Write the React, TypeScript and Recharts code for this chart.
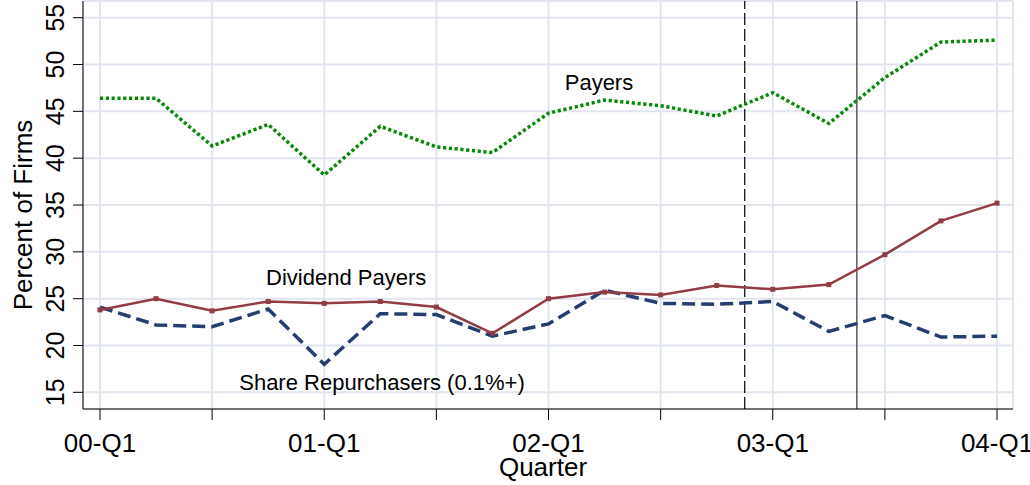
import React from "react";
import {
  LineChart,
  Line,
  XAxis,
  YAxis,
  CartesianGrid,
  ReferenceLine,
  ReferenceDot,
} from "recharts";

const quarters = [
  "00-Q1", "00-Q2", "00-Q3", "00-Q4",
  "01-Q1", "01-Q2", "01-Q3", "01-Q4",
  "02-Q1", "02-Q2", "02-Q3", "02-Q4",
  "03-Q1", "03-Q2", "03-Q3", "03-Q4",
  "04-Q1",
];
const payers = [46.4, 46.4, 41.3, 43.6, 38.2, 43.4, 41.2, 40.6, 44.8, 46.2, 45.6, 44.5, 47.0, 43.7, 48.6, 52.4, 52.6];
const dividendPayers = [23.8, 25.0, 23.7, 24.7, 24.5, 24.7, 24.1, 21.3, 25.0, 25.7, 25.4, 26.4, 26.0, 26.5, 29.7, 33.3, 35.2];
const shareRepurchasers = [24.1, 22.2, 22.0, 23.9, 18.0, 23.4, 23.3, 21.0, 22.3, 25.9, 24.5, 24.4, 24.7, 21.5, 23.2, 20.9, 21.0];

const yTicks = [15, 20, 25, 30, 35, 40, 45, 50, 55];
const xTicks = [0, 2, 4, 6, 8, 10, 12, 14, 16];
const labeledEvery = 4;

// vertical markers (in quarter index units)
const dashedMarker = 11.5;
const solidMarker = 13.5;

// series annotations, positioned in data coordinates (text baseline center)
const annotations = [
  { text: "Payers", x: 8.9, y: 47.3 },
  { text: "Dividend Payers", x: 4.39, y: 26.46 },
  { text: "Share Repurchasers (0.1%+)", x: 5.03, y: 15.2 },
];

const data = quarters.map((q, i) => ({
  idx: i,
  name: q,
  payers: payers[i],
  dividend: dividendPayers[i],
  repurchase: shareRepurchasers[i],
}));

const FONT = "'Liberation Sans', Arial, Helvetica, sans-serif";

const YTick = (props: any) => {
  const { x, y, payload } = props;
  return (
    <text
      transform={`translate(${x - 9},${y}) rotate(-90)`}
      textAnchor="middle"
      fontSize={25}
      fill="#000"
      fontFamily={FONT}
    >
      {payload.value}
    </text>
  );
};

const XTick = (props: any) => {
  const { x, y, payload } = props;
  if (payload.value % labeledEvery !== 0) return null;
  return (
    <text x={x} y={y + 32} textAnchor="middle" fontSize={26} fill="#000" fontFamily={FONT}>
      {quarters[payload.value]}
    </text>
  );
};

const SquareDot = (props: any) => {
  const { cx, cy, index } = props;
  if (cx == null || cy == null) return <g key={index} />;
  return <rect key={index} x={cx - 2.5} y={cy - 2.5} width={5} height={5} fill="#923c44" />;
};

const annotationLabel = (text: string) => (props: any) => {
  const { viewBox } = props;
  const cx = viewBox.x + (viewBox.width || 0) / 2;
  const cy = viewBox.y + (viewBox.height || 0) / 2;
  return (
    <text x={cx} y={cy} textAnchor="middle" fontSize={22} fill="#000" fontFamily={FONT}>
      {text}
    </text>
  );
};

export default function App() {
  return (
    <div style={{ position: "absolute", left: 0, top: 0, width: 1030, height: 485, background: "#fff", fontFamily: FONT }}>
      <LineChart
        width={1030}
        height={485}
        data={data}
        margin={{ top: 1, right: 17, bottom: 0, left: 0 }}
      >
        <CartesianGrid stroke="#e0e5ef" strokeWidth={2} />
        <XAxis
          dataKey="idx"
          type="number"
          domain={[-0.303, 16.285]}
          ticks={xTicks}
          tick={<XTick />}
          tickSize={11}
          tickMargin={0}
          height={76}
          axisLine={{ stroke: "#000", strokeWidth: 1 }}
          tickLine={{ stroke: "#000", strokeWidth: 1 }}
          allowDataOverflow
          label={(props: any) => {
            const { viewBox } = props;
            return (
              <text
                x={viewBox.x + viewBox.width / 2 - 5}
                y={viewBox.y + 67}
                textAnchor="middle"
                fontSize={26}
                fill="#000"
                fontFamily={FONT}
              >
                Quarter
              </text>
            );
          }}
        />
        <YAxis
          type="number"
          domain={[13.22, 56.78]}
          ticks={yTicks}
          tick={<YTick />}
          tickSize={10}
          tickMargin={0}
          width={83}
          axisLine={{ stroke: "#000", strokeWidth: 1 }}
          tickLine={{ stroke: "#000", strokeWidth: 1 }}
          allowDataOverflow
          label={(props: any) => {
            const { viewBox } = props;
            const cy = viewBox.y + viewBox.height / 2 + 10;
            return (
              <text
                transform={`translate(32,${cy}) rotate(-90)`}
                textAnchor="middle"
                fontSize={26}
                fill="#000"
                fontFamily={FONT}
              >
                Percent of Firms
              </text>
            );
          }}
        />
        <ReferenceLine x={dashedMarker} stroke="#000" strokeWidth={1.2} strokeDasharray="12 4" />
        <ReferenceLine x={solidMarker} stroke="#333" strokeWidth={1.2} />
        <Line
          dataKey="payers"
          stroke="#0a870a"
          strokeWidth={3.5}
          strokeDasharray="3.2 2.6"
          dot={false}
          isAnimationActive={false}
        />
        <Line
          dataKey="repurchase"
          stroke="#233e6f"
          strokeWidth={3.5}
          strokeDasharray="13 6"
          dot={false}
          isAnimationActive={false}
        />
        <Line
          dataKey="dividend"
          stroke="#923c44"
          strokeWidth={2.5}
          dot={<SquareDot />}
          isAnimationActive={false}
        />
        {annotations.map((a) => (
          <ReferenceDot
            key={a.text}
            x={a.x}
            y={a.y}
            r={0}
            fill="none"
            stroke="none"
            label={annotationLabel(a.text)}
          />
        ))}
      </LineChart>
    </div>
  );
}
